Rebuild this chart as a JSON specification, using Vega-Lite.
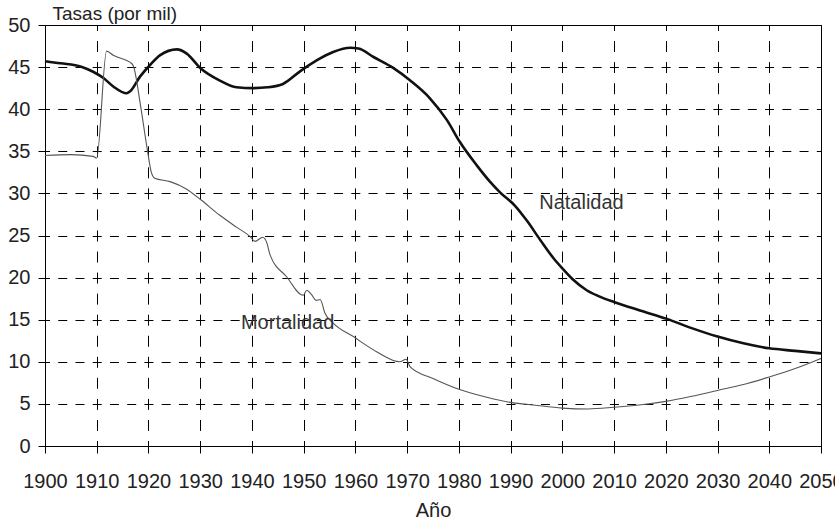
{
  "$schema": "https://vega.github.io/schema/vega-lite/v6.json",
  "width": 776,
  "height": 421,
  "autosize": "none",
  "padding": {"left": 45, "top": 25, "right": 14, "bottom": 77},
  "background": "white",
  "config": {
    "font": "Liberation Sans",
    "view": {"stroke": "black", "strokeWidth": 1}
  },
  "datasets": {
    "series": [
      {"anio": 1900, "tasa": 45.7, "serie": "Natalidad"},
      {"anio": 1903, "tasa": 45.45, "serie": "Natalidad"},
      {"anio": 1907, "tasa": 45.05, "serie": "Natalidad"},
      {"anio": 1909.3, "tasa": 44.45, "serie": "Natalidad"},
      {"anio": 1911.3, "tasa": 43.7, "serie": "Natalidad"},
      {"anio": 1913.2, "tasa": 42.7, "serie": "Natalidad"},
      {"anio": 1915.8, "tasa": 41.9, "serie": "Natalidad"},
      {"anio": 1916.4, "tasa": 42.1, "serie": "Natalidad"},
      {"anio": 1918.4, "tasa": 43.9, "serie": "Natalidad"},
      {"anio": 1920.3, "tasa": 45.25, "serie": "Natalidad"},
      {"anio": 1922.2, "tasa": 46.4, "serie": "Natalidad"},
      {"anio": 1925.5, "tasa": 47.1, "serie": "Natalidad"},
      {"anio": 1927.4, "tasa": 46.6, "serie": "Natalidad"},
      {"anio": 1930, "tasa": 44.9, "serie": "Natalidad"},
      {"anio": 1933.8, "tasa": 43.4, "serie": "Natalidad"},
      {"anio": 1937, "tasa": 42.6, "serie": "Natalidad"},
      {"anio": 1940.3, "tasa": 42.5, "serie": "Natalidad"},
      {"anio": 1943, "tasa": 42.6, "serie": "Natalidad"},
      {"anio": 1946, "tasa": 43.0, "serie": "Natalidad"},
      {"anio": 1949.3, "tasa": 44.5, "serie": "Natalidad"},
      {"anio": 1952.5, "tasa": 45.8, "serie": "Natalidad"},
      {"anio": 1955.7, "tasa": 46.8, "serie": "Natalidad"},
      {"anio": 1959, "tasa": 47.3, "serie": "Natalidad"},
      {"anio": 1960.6, "tasa": 47.2, "serie": "Natalidad"},
      {"anio": 1963.5, "tasa": 46.2, "serie": "Natalidad"},
      {"anio": 1967.3, "tasa": 44.9, "serie": "Natalidad"},
      {"anio": 1970.6, "tasa": 43.4, "serie": "Natalidad"},
      {"anio": 1974.4, "tasa": 41.3, "serie": "Natalidad"},
      {"anio": 1977.7, "tasa": 38.7, "serie": "Natalidad"},
      {"anio": 1980.2, "tasa": 36.1, "serie": "Natalidad"},
      {"anio": 1983.5, "tasa": 33.3, "serie": "Natalidad"},
      {"anio": 1986, "tasa": 31.4, "serie": "Natalidad"},
      {"anio": 1988, "tasa": 30.1, "serie": "Natalidad"},
      {"anio": 1990.9, "tasa": 28.5, "serie": "Natalidad"},
      {"anio": 1993.1, "tasa": 26.8, "serie": "Natalidad"},
      {"anio": 1995.7, "tasa": 24.5, "serie": "Natalidad"},
      {"anio": 1998.3, "tasa": 22.3, "serie": "Natalidad"},
      {"anio": 2000, "tasa": 21.1, "serie": "Natalidad"},
      {"anio": 2002, "tasa": 19.8, "serie": "Natalidad"},
      {"anio": 2004.7, "tasa": 18.5, "serie": "Natalidad"},
      {"anio": 2007, "tasa": 17.8, "serie": "Natalidad"},
      {"anio": 2010, "tasa": 17.1, "serie": "Natalidad"},
      {"anio": 2015, "tasa": 16.1, "serie": "Natalidad"},
      {"anio": 2020.2, "tasa": 15.1, "serie": "Natalidad"},
      {"anio": 2025, "tasa": 14.0, "serie": "Natalidad"},
      {"anio": 2030, "tasa": 13.0, "serie": "Natalidad"},
      {"anio": 2035, "tasa": 12.2, "serie": "Natalidad"},
      {"anio": 2040, "tasa": 11.6, "serie": "Natalidad"},
      {"anio": 2045, "tasa": 11.3, "serie": "Natalidad"},
      {"anio": 2050, "tasa": 11.0, "serie": "Natalidad"},
      {"anio": 1900, "tasa": 34.5, "serie": "Mortalidad"},
      {"anio": 1905, "tasa": 34.6, "serie": "Mortalidad"},
      {"anio": 1909.3, "tasa": 34.4, "serie": "Mortalidad"},
      {"anio": 1910, "tasa": 34.2, "serie": "Mortalidad"},
      {"anio": 1911.9, "tasa": 46.9, "serie": "Mortalidad"},
      {"anio": 1913.2, "tasa": 46.4, "serie": "Mortalidad"},
      {"anio": 1916.8, "tasa": 45.4, "serie": "Mortalidad"},
      {"anio": 1917.1, "tasa": 45.1, "serie": "Mortalidad"},
      {"anio": 1918.4, "tasa": 40.7, "serie": "Mortalidad"},
      {"anio": 1919.7, "tasa": 35.5, "serie": "Mortalidad"},
      {"anio": 1920.6, "tasa": 32.4, "serie": "Mortalidad"},
      {"anio": 1921.2, "tasa": 31.8, "serie": "Mortalidad"},
      {"anio": 1924.2, "tasa": 31.4, "serie": "Mortalidad"},
      {"anio": 1927.4, "tasa": 30.5, "serie": "Mortalidad"},
      {"anio": 1930, "tasa": 29.3, "serie": "Mortalidad"},
      {"anio": 1933.8, "tasa": 27.4, "serie": "Mortalidad"},
      {"anio": 1937, "tasa": 26.0, "serie": "Mortalidad"},
      {"anio": 1939.6, "tasa": 24.9, "serie": "Mortalidad"},
      {"anio": 1940.6, "tasa": 24.3, "serie": "Mortalidad"},
      {"anio": 1942.1, "tasa": 24.8, "serie": "Mortalidad"},
      {"anio": 1942.9, "tasa": 24.1, "serie": "Mortalidad"},
      {"anio": 1943.5, "tasa": 22.7, "serie": "Mortalidad"},
      {"anio": 1946.7, "tasa": 20.1, "serie": "Mortalidad"},
      {"anio": 1949.9, "tasa": 17.9, "serie": "Mortalidad"},
      {"anio": 1950.6, "tasa": 18.5, "serie": "Mortalidad"},
      {"anio": 1951.5, "tasa": 18.0, "serie": "Mortalidad"},
      {"anio": 1952.4, "tasa": 17.3, "serie": "Mortalidad"},
      {"anio": 1953.2, "tasa": 17.4, "serie": "Mortalidad"},
      {"anio": 1954.1, "tasa": 15.8, "serie": "Mortalidad"},
      {"anio": 1955.7, "tasa": 14.6, "serie": "Mortalidad"},
      {"anio": 1959.6, "tasa": 13.0, "serie": "Mortalidad"},
      {"anio": 1964.1, "tasa": 11.2, "serie": "Mortalidad"},
      {"anio": 1968.6, "tasa": 10.0, "serie": "Mortalidad"},
      {"anio": 1969.8, "tasa": 10.3, "serie": "Mortalidad"},
      {"anio": 1970.6, "tasa": 9.4, "serie": "Mortalidad"},
      {"anio": 1975.1, "tasa": 8.0, "serie": "Mortalidad"},
      {"anio": 1980, "tasa": 6.75, "serie": "Mortalidad"},
      {"anio": 1985.4, "tasa": 5.8, "serie": "Mortalidad"},
      {"anio": 1990.3, "tasa": 5.15, "serie": "Mortalidad"},
      {"anio": 1994.4, "tasa": 4.87, "serie": "Mortalidad"},
      {"anio": 2000, "tasa": 4.5, "serie": "Mortalidad"},
      {"anio": 2005, "tasa": 4.4, "serie": "Mortalidad"},
      {"anio": 2010, "tasa": 4.6, "serie": "Mortalidad"},
      {"anio": 2016, "tasa": 4.95, "serie": "Mortalidad"},
      {"anio": 2020, "tasa": 5.3, "serie": "Mortalidad"},
      {"anio": 2025, "tasa": 5.9, "serie": "Mortalidad"},
      {"anio": 2030, "tasa": 6.6, "serie": "Mortalidad"},
      {"anio": 2035, "tasa": 7.3, "serie": "Mortalidad"},
      {"anio": 2040, "tasa": 8.2, "serie": "Mortalidad"},
      {"anio": 2045, "tasa": 9.2, "serie": "Mortalidad"},
      {"anio": 2050, "tasa": 10.4, "serie": "Mortalidad"}
    ],
    "labels": [
      {"anio": 2003.7, "tasa": 28.9, "texto": "Natalidad"},
      {"anio": 1946.9, "tasa": 14.6, "texto": "Mortalidad"}
    ]
  },
  "layer": [
    {
      "data": {"name": "series"},
      "mark": {"type": "line", "interpolate": "monotone"},
      "encoding": {
        "x": {
          "field": "anio",
          "type": "quantitative",
          "scale": {"domain": [1900, 2050], "nice": false, "zero": false},
          "axis": {
            "title": "Año",
            "titleFont": "Liberation Sans",
            "titleFontSize": 20,
            "titleFontWeight": "normal",
            "titleColor": "#222",
            "titleBaseline": "alphabetic",
            "titleY": 70,
            "values": [1900, 1910, 1920, 1930, 1940, 1950, 1960, 1970, 1980, 1990, 2000, 2010, 2020, 2030, 2040, 2050],
            "format": "d",
            "labelFlush": false,
            "labelOverlap": false,
            "labelFontSize": 20,
            "labelColor": "#222",
            "labelPadding": 18,
            "tickSize": 7,
            "tickColor": "black",
            "domainColor": "black",
            "grid": true,
            "gridColor": "black",
            "gridOpacity": 1,
            "gridDash": [11, 10.05],
            "gridDashOffset": 5.5,
            "gridWidth": 1
          }
        },
        "y": {
          "field": "tasa",
          "type": "quantitative",
          "scale": {"domain": [0, 50], "nice": false},
          "axis": {
            "title": "Tasas (por mil)",
            "titleFont": "Liberation Sans",
            "titleFontSize": 19,
            "titleFontWeight": "normal",
            "titleColor": "#222",
            "titleAngle": 0,
            "titleAlign": "left",
            "titleBaseline": "alphabetic",
            "titleX": 7,
            "titleY": -6,
            "values": [0, 5, 10, 15, 20, 25, 30, 35, 40, 45, 50],
            "labelFontSize": 20,
            "labelColor": "#222",
            "labelPadding": 8,
            "tickSize": 7,
            "tickColor": "black",
            "domainColor": "black",
            "grid": true,
            "gridColor": "black",
            "gridOpacity": 1,
            "gridDash": [9, 8.24],
            "gridDashOffset": 4.5,
            "gridWidth": 1
          }
        },
        "color": {
          "field": "serie",
          "type": "nominal",
          "scale": {"domain": ["Natalidad", "Mortalidad"], "range": ["#111111", "#555555"]},
          "legend": null
        },
        "strokeWidth": {
          "field": "serie",
          "type": "nominal",
          "scale": {"domain": ["Natalidad", "Mortalidad"], "range": [2.6, 1.1]},
          "legend": null
        }
      }
    },
    {
      "data": {"name": "labels"},
      "mark": {"type": "text", "fontSize": 20, "color": "#333", "font": "Liberation Sans", "baseline": "middle", "align": "center"},
      "encoding": {
        "x": {"field": "anio", "type": "quantitative"},
        "y": {"field": "tasa", "type": "quantitative"},
        "text": {"field": "texto"}
      }
    }
  ]
}
